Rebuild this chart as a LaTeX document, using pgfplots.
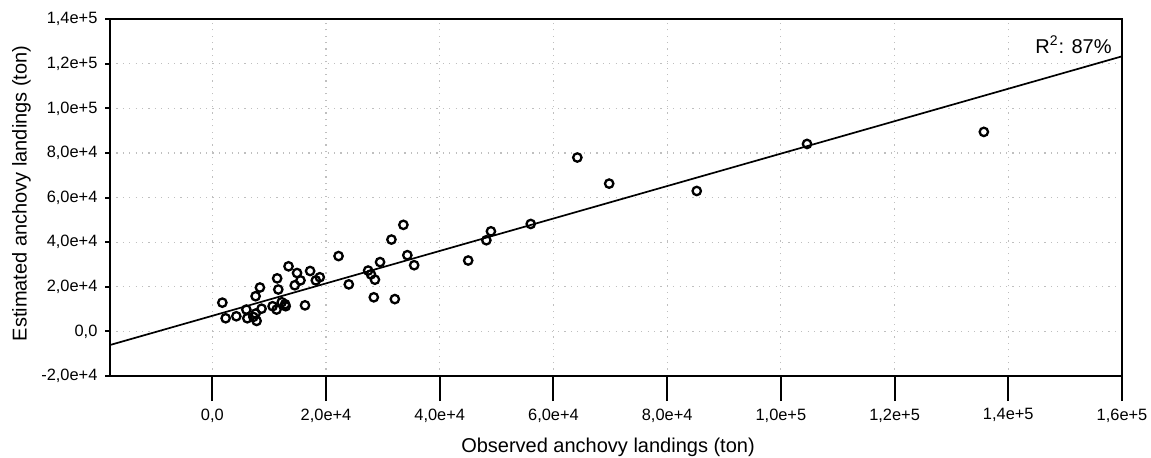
\documentclass[border=0pt]{standalone}
\usepackage{fontspec}
\setmainfont{Liberation Sans}
\usepackage{pgfplots}
\usepackage{pgfplotstable}
\pgfplotsset{compat=1.18}

\pgfplotstableread{
x y
1760 12900
2340 5900
4220 6800
5980 9800
6150 5900
7210 6500
7790 4700
7610 8000
7610 15800
8370 19700
8660 10200
10600 11300
11300 9800
11400 23800
11600 18800
12200 13100
12800 12200
12900 11300
13400 29200
14900 26200
14500 20700
15500 22900
16300 11700
17200 27100
18200 22900
18900 24300
22200 33800
24000 21100
27400 27300
27900 25600
28600 23200
28400 15300
29500 31100
31500 41200
32100 14500
33600 47800
34300 34200
35500 29700
45000 31800
48200 40900
49000 44900
56000 48200
64200 78000
69800 66300
85200 63000
104600 84100
135700 89500
}\obs

\pgfplotstableread{
x y
-18000 -6095
160000 123400
}\fit

\begin{document}
\begin{tikzpicture}
\useasboundingbox (0,0) rectangle (575.5pt,228.5pt);
\begin{axis}[
  at={(55pt,40.5pt)}, anchor=south west,
  scale only axis, width=506pt, height=178.35pt,
  xmin=-18000, xmax=160000, ymin=-20000, ymax=140000,
  xtick={0,20000,40000,60000,80000,100000,120000,140000,160000},
  xticklabels={{0,0},{2,0e+4},{4,0e+4},{6,0e+4},{8,0e+4},{1,0e+5},{1,2e+5},{1,4e+5},{1,6e+5}},
  ytick={-20000,0,20000,40000,60000,80000,100000,120000,140000},
  yticklabels={{-2,0e+4},{0,0},{2,0e+4},{4,0e+4},{6,0e+4},{8,0e+4},{1,0e+5},{1,2e+5},{1,4e+5}},
  scaled x ticks=false, scaled y ticks=false,
  tick pos=left, tick align=outside,
  xtick style={/pgfplots/major tick length=12.5pt, line width=1pt, black},
  ytick style={/pgfplots/major tick length=2.5pt, line width=1pt, black},
  ticklabel style={font=\fontsize{8.2}{10}\selectfont},
  x tick label style={yshift=-8.5pt},
  y tick label style={xshift=1.5pt},
  axis line style={line width=1pt},
  grid=major,
  major grid style={gray!50, line width=0.6pt, dash pattern=on 0.6pt off 2.6pt},
  xlabel={Observed anchovy landings (ton)},
  ylabel={Estimated anchovy landings (ton)},
  xlabel style={font=\fontsize{10}{12}\selectfont, at={(axis description cs:0.4921,0)}, anchor=base, yshift=-38.4pt},
  ylabel style={font=\fontsize{10}{12}\selectfont, at={([xshift=-41.65pt]axis description cs:0,0.512)}, anchor=base},
  clip=false,
]
\addplot[black, line width=0.85pt] table[x=x,y=y] {\fit};
\addplot[only marks, mark=o, mark size=2.1pt, mark options={line width=1.15pt, black}] table[x=x,y=y] {\obs};
\node[anchor=base east, font=\fontsize{10}{12}\selectfont, inner sep=0pt] at ([xshift=-5pt,yshift=-16.85pt]axis description cs:1,1) {R\textsuperscript{2}: 87\%};
\end{axis}
\end{tikzpicture}
\end{document}
